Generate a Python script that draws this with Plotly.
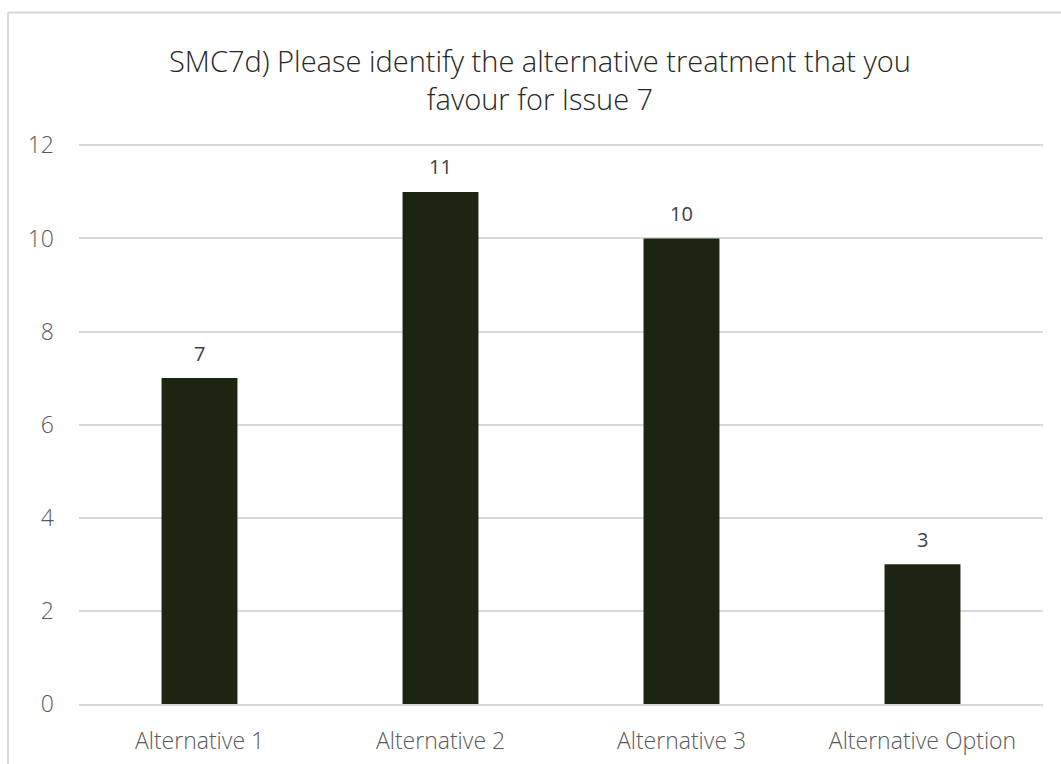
import plotly.graph_objects as go

# Survey responses: favoured alternative treatment for Issue 7
categories = ["Alternative 1", "Alternative 2", "Alternative 3", "Alternative Option"]
counts = [7, 11, 10, 3]
y_ticks = [0, 2, 4, 6, 8, 10, 12]

title_text = "SMC7d) Please identify the alternative treatment that you<br>favour for Issue 7"

W, H = 1061, 764
y_top = 12.05  # a little headroom so the 12 gridline is drawn
ml, mr, mb = 79, 18, 60
px_per_unit = (704 - 145) / 12
plot_h = px_per_unit * y_top
mt = H - mb - plot_h
plot_w = W - ml - mr

bar_color = "#1b2511"
grid_color = "#d9d9d9"
axis_text = "#595959"
font_family = "Open Sans, Segoe UI, sans-serif"

fig = go.Figure()
fig.add_trace(
    go.Bar(
        x=categories,
        y=counts,
        marker=dict(color=bar_color, line=dict(width=0)),
        hoverinfo="x+y",
    )
)

# Value labels above each bar
for cat, v in zip(categories, counts):
    fig.add_annotation(
        x=cat, y=v, text=str(v), showarrow=False,
        yanchor="middle", yshift=25,
        font=dict(family=font_family, size=20, color="#404040"),
    )

# Chart frame (top and left edges show inside the page)
fx = (8 - ml) / plot_w
fy = (H - mb - 12) / plot_h
fig.add_shape(type="line", xref="paper", yref="paper",
              x0=fx, x1=fx, y0=-0.3, y1=fy,
              line=dict(color=grid_color, width=2))
fig.add_shape(type="line", xref="paper", yref="paper",
              x0=fx, x1=1.2, y0=fy, y1=fy,
              line=dict(color=grid_color, width=2))

fig.update_layout(
    width=W, height=H,
    margin=dict(l=ml, r=mr, t=mt, b=mb, autoexpand=False),
    paper_bgcolor="white",
    plot_bgcolor="white",
    bargap=0.685,
    showlegend=False,
    font=dict(family=font_family, color=axis_text),
    title=dict(
        text=title_text,
        x=540 / W, xanchor="center", xref="container",
        y=1 - 72 / H, yanchor="top", yref="container",
        font=dict(family=font_family, size=29, color="#262626", weight=300),
    ),
)

fig.update_xaxes(
    automargin=False,
    showline=True, linecolor=grid_color, linewidth=1.5,
    showgrid=False, ticks="",
    ticklabelstandoff=16,
    tickfont=dict(family=font_family, size=23, color=axis_text, weight=300),
)
fig.update_yaxes(
    automargin=False,
    range=[0, y_top], tickvals=y_ticks,
    showgrid=True, gridcolor=grid_color, gridwidth=1.5,
    zeroline=False, showline=False, ticks="",
    ticklabelstandoff=24,
    tickfont=dict(family=font_family, size=23, color=axis_text, weight=300),
)

fig.write_html("out.html")
